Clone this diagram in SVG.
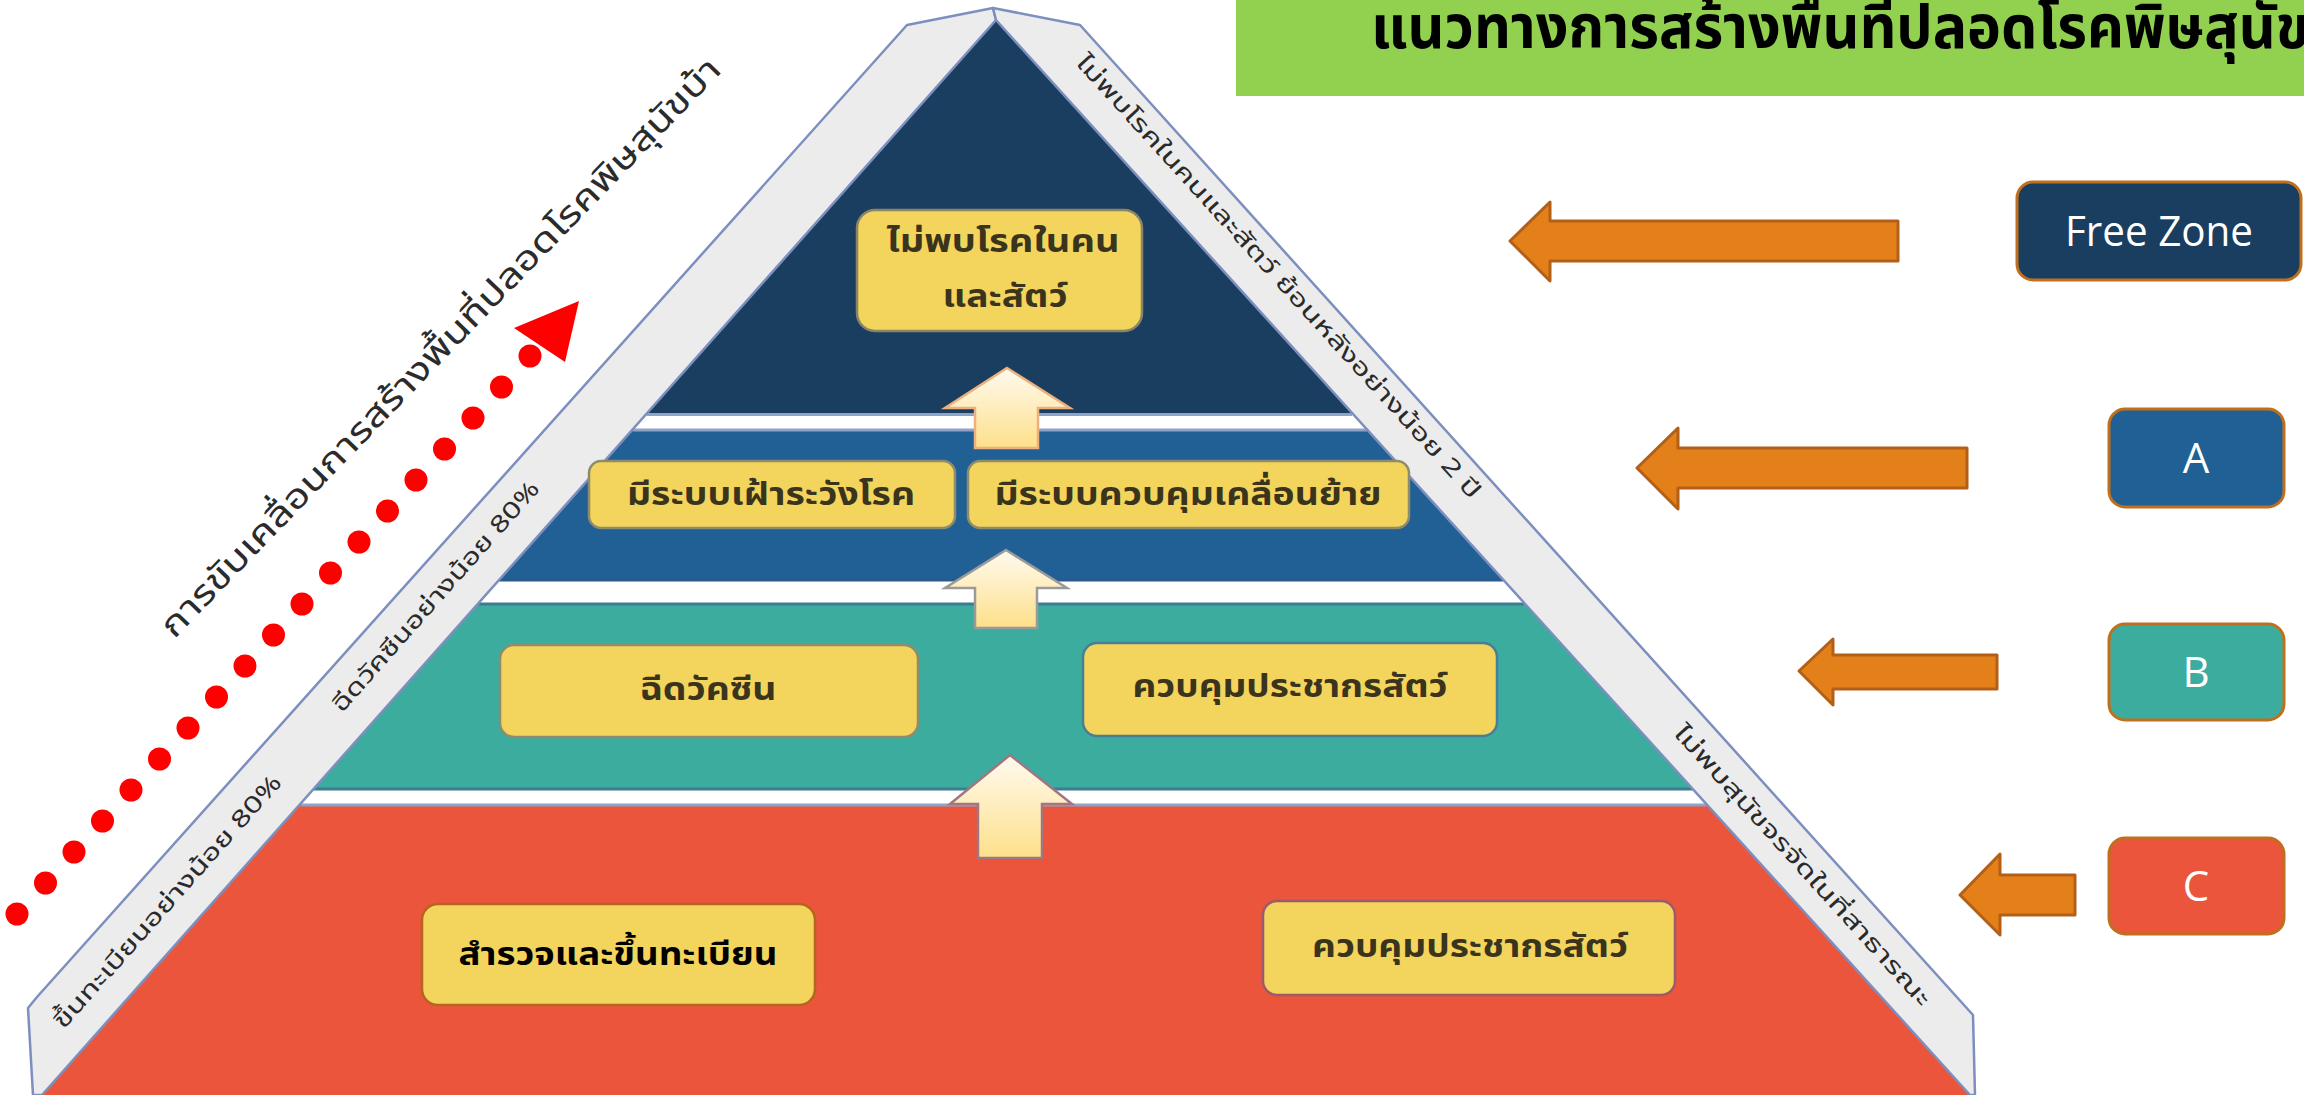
<svg xmlns="http://www.w3.org/2000/svg" width="2304" height="1095" viewBox="0 0 2304 1095">
<defs>
<linearGradient id="upg" x1="0" y1="0" x2="0" y2="1">
<stop offset="0" stop-color="#fffaf0"/>
<stop offset="0.5" stop-color="#feedbd"/>
<stop offset="1" stop-color="#fde08a"/>
</linearGradient>
<style>
.th{font-family:'Noto Sans Thai','Noto Sans Thai UI','Loma','Garuda','Tlwg Typo','DejaVu Sans',sans-serif}
.box{fill:#f3d45c;stroke-width:2.5}
.bt{font-size:32px;font-weight:bold;fill:#3a341c;text-anchor:middle}
.band{fill:#ececec;stroke:#7d8fbf;stroke-width:2.5;stroke-linejoin:round}
.bandt{font-size:23px;fill:#2a2a2a;text-anchor:middle;dominant-baseline:central}
.oarr{fill:#e3801a;stroke:#b35f17;stroke-width:3;stroke-linejoin:round}
.uarr{fill:url(#upg);stroke-width:2.5}
.lbl{font-family:'Open Sans','Noto Sans','Liberation Sans',sans-serif;font-size:42px;fill:#ffffff;text-anchor:middle}
.rbox{stroke:#c0701c;stroke-width:3}
.dot{fill:#ff0000}
</style>
</defs>
<rect width="2304" height="1095" fill="#ffffff"/>

<g id="title">
<rect x="1236" y="0" width="1068" height="96" fill="#92d050"/>
<text class="th" x="1371" y="48" font-size="60" font-weight="bold" fill="#000" textLength="1000" lengthAdjust="spacingAndGlyphs">แนวทางการสร้างพื้นที่ปลอดโรคพิษสุนัขบ้า</text>
</g>

<g id="pyramid-layers">
<polygon id="layer-free" points="996,20 1352,413 647,413" fill="#1a3e60"/>
<polygon id="layer-a" points="631,431 1368,431 1504,581 498,581" fill="#216095"/>
<polygon id="layer-b" points="478,604 1525,604 1694,790 313,790" fill="#3cac9f"/>
<polygon id="layer-c" points="301,804 1706,804 1970,1095 42,1095" fill="#ea553c"/>
<line x1="647" y1="414.5" x2="1352" y2="414.5" stroke="#8fa3c8" stroke-width="3"/>
<line x1="633" y1="430" x2="1367" y2="430" stroke="#8fa3c8" stroke-width="3"/>
<line x1="499" y1="580" x2="1503" y2="580" stroke="#2a5a8c" stroke-width="3"/>
<line x1="479" y1="604" x2="1524" y2="604" stroke="#3d7d93" stroke-width="3"/>
<line x1="314" y1="789" x2="1693" y2="789" stroke="#3d7d93" stroke-width="3"/>
<line x1="301" y1="805" x2="1706" y2="805" stroke="#8fa3c8" stroke-width="3"/>
</g>

<g id="band-left">
<polygon class="band" points="993,8 996,20 42,1095 33,1095 28,1008 37,997 907,25"/>
<text class="th bandt" transform="translate(168,902) rotate(-48.4)" textLength="330" lengthAdjust="spacingAndGlyphs">ขึ้นทะเบียนอย่างน้อย 80%</text>
<text class="th bandt" transform="translate(436,597) rotate(-48.4)" textLength="300" lengthAdjust="spacingAndGlyphs">ฉีดวัคซีนอย่างน้อย 80%</text>
</g>

<g id="band-right">
<polygon class="band" points="993,8 1080,25 1973,1015 1975,1095 1970,1095 996,20"/>
<text class="th bandt" transform="translate(1278,277) rotate(47.8)" textLength="590" lengthAdjust="spacingAndGlyphs">ไม่พบโรคในคนและสัตว์ ย้อนหลังอย่างน้อย 2 ปี</text>
<text class="th bandt" transform="translate(1802,866) rotate(47.8)" textLength="370" lengthAdjust="spacingAndGlyphs">ไม่พบสุนัขจรจัดในที่สาธารณะ</text>
</g>

<g id="node-free">
<rect class="box" x="857" y="210" width="285" height="121" rx="18" stroke="#8a8566"/>
<text class="th bt" x="1003" y="252" font-size="30" textLength="233" lengthAdjust="spacingAndGlyphs">ไม่พบโรคในคน</text>
<text class="th bt" x="1005" y="307" font-size="30" textLength="125" lengthAdjust="spacingAndGlyphs">และสัตว์</text>
</g>

<g id="node-surveillance">
<rect class="box" x="589" y="461" width="366" height="67" rx="12" stroke="#8f8c6c"/>
<text class="th bt" x="771" y="505" textLength="288" lengthAdjust="spacingAndGlyphs">มีระบบเฝ้าระวังโรค</text>
</g>
<g id="node-movement">
<rect class="box" x="968" y="461" width="441" height="67" rx="12" stroke="#8f8c6c"/>
<text class="th bt" x="1188" y="505" textLength="387" lengthAdjust="spacingAndGlyphs">มีระบบควบคุมเคลื่อนย้าย</text>
</g>

<g id="node-vaccine">
<rect class="box" x="500" y="645" width="418" height="92" rx="14" stroke="#8f8c6c"/>
<text class="th bt" x="708" y="700" textLength="137" lengthAdjust="spacingAndGlyphs">ฉีดวัคซีน</text>
</g>
<g id="node-population-b">
<rect class="box" x="1083" y="643" width="414" height="93" rx="14" stroke="#4a7d96"/>
<text class="th bt" x="1290" y="697" textLength="315" lengthAdjust="spacingAndGlyphs">ควบคุมประชากรสัตว์</text>
</g>

<g id="node-register">
<rect class="box" x="422" y="904" width="393" height="101" rx="16" stroke="#b5651d" stroke-width="3"/>
<text class="th bt" x="618" y="965" style="fill:#000" textLength="319" lengthAdjust="spacingAndGlyphs">สำรวจและขึ้นทะเบียน</text>
</g>
<g id="node-population-c">
<rect class="box" x="1263" y="901" width="412" height="94" rx="14" stroke="#9c5a6c"/>
<text class="th bt" x="1470" y="957" textLength="316" lengthAdjust="spacingAndGlyphs">ควบคุมประชากรสัตว์</text>
</g>

<g id="side-text">
<text class="th" transform="translate(441,348) rotate(-46)" font-size="34" fill="#2b2b2b" text-anchor="middle" dominant-baseline="central" textLength="790" lengthAdjust="spacingAndGlyphs">การขับเคลื่อนการสร้างพื้นที่ปลอดโรคพิษสุนัขบ้า</text>
</g>

<g id="zone-free">
<rect class="rbox" x="2017" y="182" width="284" height="98" rx="16" fill="#1a3e60"/>
<text class="lbl" x="2159" y="246" textLength="188" lengthAdjust="spacingAndGlyphs">Free Zone</text>
</g>
<g id="zone-a">
<rect class="rbox" x="2109" y="409" width="175" height="98" rx="16" fill="#216095"/>
<text class="lbl" x="2196" y="473">A</text>
</g>
<g id="zone-b">
<rect class="rbox" x="2109" y="624" width="175" height="96" rx="16" fill="#3cac9f"/>
<text class="lbl" x="2196" y="687">B</text>
</g>
<g id="zone-c">
<rect class="rbox" x="2109" y="838" width="175" height="96" rx="16" fill="#ea553c"/>
<text class="lbl" x="2196" y="901">C</text>
</g>

<g id="connectors">
<polygon class="uarr" stroke="#f0b07c" points="1007,368 1070,408 1038,408 1038,448 975,448 975,408 945,408"/>
<polygon class="uarr" stroke="#9a9a9a" points="1006,550 1067,588 1037,588 1037,628 975,628 975,588 945,588"/>
<polygon class="uarr" stroke="#a07680" points="1010,755 1072,804 1042,804 1042,858 978,858 978,804 950,804"/>
<polygon class="oarr" points="1510,241 1550,202 1550,221 1898,221 1898,261 1550,261 1550,281"/>
<polygon class="oarr" points="1637,468 1678,428 1678,448 1967,448 1967,488 1678,488 1678,509"/>
<polygon class="oarr" points="1799,671 1833,639 1833,655 1997,655 1997,689 1833,689 1833,705"/>
<polygon class="oarr" points="1960,895 2000,854 2000,875 2075,875 2075,915 2000,915 2000,935"/>
<g id="progress-arrow">
<circle class="dot" cx="530" cy="356" r="11.5"/>
<circle class="dot" cx="501.5" cy="387" r="11.5"/>
<circle class="dot" cx="473" cy="418" r="11.5"/>
<circle class="dot" cx="444.5" cy="449" r="11.5"/>
<circle class="dot" cx="416" cy="480" r="11.5"/>
<circle class="dot" cx="387.5" cy="511" r="11.5"/>
<circle class="dot" cx="359" cy="542" r="11.5"/>
<circle class="dot" cx="330.5" cy="573" r="11.5"/>
<circle class="dot" cx="302" cy="604" r="11.5"/>
<circle class="dot" cx="273.5" cy="635" r="11.5"/>
<circle class="dot" cx="245" cy="666" r="11.5"/>
<circle class="dot" cx="216.5" cy="697" r="11.5"/>
<circle class="dot" cx="188" cy="728" r="11.5"/>
<circle class="dot" cx="159.5" cy="759" r="11.5"/>
<circle class="dot" cx="131" cy="790" r="11.5"/>
<circle class="dot" cx="102.5" cy="821" r="11.5"/>
<circle class="dot" cx="74" cy="852" r="11.5"/>
<circle class="dot" cx="45.5" cy="883" r="11.5"/>
<circle class="dot" cx="17" cy="914" r="11.5"/>
<polygon fill="#ff0000" points="514,328 579,301 565,362"/>
</g>
</g>
</svg>
